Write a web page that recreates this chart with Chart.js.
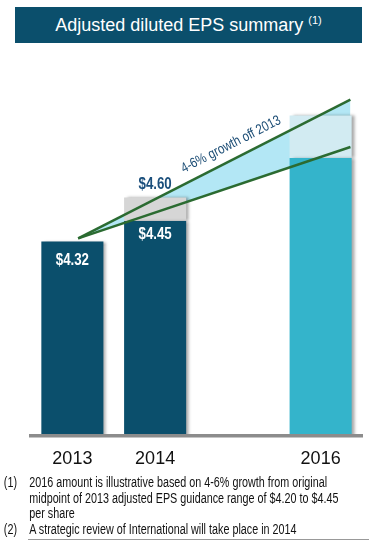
<!DOCTYPE html>
<html>
<head>
<meta charset="utf-8">
<script src="https://cdn.jsdelivr.net/npm/chart.js@4.4.0/dist/chart.umd.min.js"></script>
<style>
  body { margin: 0; width: 369px; height: 548px; background: #fff; position: relative; overflow: hidden;
         font-family: "Liberation Sans", Arial, sans-serif; }
  #title { position: absolute; left: 15px; top: 7px; width: 347px; height: 36px; background: #0b4f6c;
           color: #fff; font-size: 18px; line-height: 36px; text-align: center; }
  #title sup { font-size: 11px; vertical-align: 7px; line-height: 0; }
  #box { position: absolute; left: 0; top: 0; width: 369px; height: 485px; }
  /* the original uses a narrow face; squeeze the regular one to match */
  #notes { position: absolute; left: 0; top: 475px; width: 480px; font-size: 14px; line-height: 15.5px;
           color: #111; white-space: nowrap; transform: scaleX(0.77); transform-origin: 0 0; }
  .note { position: relative; padding-left: 38px; }
  .note span { position: absolute; left: 5px; }
  #rule { position: absolute; left: 28px; top: 539px; width: 341px; height: 1px; background: #999; }
</style>
</head>
<body>
<div id="box"><canvas id="chart"></canvas></div>
<div id="title">Adjusted diluted EPS summary <sup>(1)</sup></div>
<div id="notes">
  <div class="note"><span>(1)</span>2016 amount is illustrative based on 4-6% growth from original<br>midpoint of 2013 adjusted EPS guidance range of $4.20 to $4.45<br>per share</div>
  <div class="note"><span>(2)</span>A strategic review of International will take place in 2014</div>
</div>
<div id="rule"></div>
<script>
// values
const years = ["2013", "2014", "", "2016"];
const eps = [4.32, 4.45, null, 4.85];        // solid bars
const epsTop = [null, 4.60, null, 5.12];     // light caps on top
const growthX = [0.07, 3.36];                // category index along the growth lines
const growthLow = [4.34, 4.92];              // 4% line
const growthHigh = [4.34, 5.22];             // 6% line

const dark = "#0b4f6c";
const sans = '"Liberation Sans", Arial, sans-serif';

const capRanges = eps.map((v, i) => epsTop[i] == null ? null : [v, epsTop[i]]);
const lowPts = growthX.map((x, i) => ({x: x, y: growthLow[i]}));
const highPts = growthX.map((x, i) => ({x: x, y: growthHigh[i]}));

const shadow = {
    id: "shadow",
    beforeDatasetDraw(chart, args) {
        if (args.meta.type !== "bar") return;
        const ctx = chart.ctx;
        ctx.save();
        ctx.shadowColor = "rgba(0,0,0,0.35)";
        ctx.shadowOffsetX = 3;
        ctx.shadowBlur = 3;
    },
    afterDatasetDraw(chart, args) {
        if (args.meta.type === "bar") chart.ctx.restore();
    }
};

function narrowText(ctx, text, x, y, angle) {
    ctx.save();
    ctx.translate(x, y);
    ctx.rotate(angle || 0);
    ctx.scale(0.83, 1);
    ctx.fillText(text, 0, 0);
    ctx.restore();
}

const labels = {
    id: "labels",
    afterDatasetsDraw(chart) {
        const ctx = chart.ctx;
        const base = chart.getDatasetMeta(0).data;
        const caps = chart.getDatasetMeta(1).data;
        ctx.save();
        ctx.textAlign = "center";
        ctx.textBaseline = "middle";
        ctx.font = "bold 16px " + sans;
        ctx.fillStyle = "#fff";
        narrowText(ctx, "$" + eps[0].toFixed(2), base[0].x, base[0].y + 19);
        narrowText(ctx, "$" + eps[1].toFixed(2), base[1].x, base[1].y + 14);
        ctx.fillStyle = "#1b4f7c";
        narrowText(ctx, "$" + epsTop[1].toFixed(2), caps[1].x, caps[1].y - 13);

        // slanted note above the 6% line
        const xs = chart.scales.x2, ys = chart.scales.y;
        const x0 = xs.getPixelForValue(growthX[0]), y0 = ys.getPixelForValue(growthHigh[0]);
        const x1 = xs.getPixelForValue(growthX[1]), y1 = ys.getPixelForValue(growthHigh[1]);
        const ang = Math.atan2(y1 - y0, x1 - x0);
        const tx = 231, ty = y0 + (y1 - y0) * (tx - x0) / (x1 - x0) - 16;
        ctx.font = "14px " + sans;
        ctx.fillStyle = "#1d4e76";
        narrowText(ctx, "4-6% growth off 2013", tx, ty, ang);
        ctx.restore();
    }
};

new Chart(document.getElementById("chart"), {
    data: {
        labels: years,
        datasets: [{
            type: "bar",
            data: eps,
            backgroundColor: [dark, dark, dark, "#34b4cb"],
            grouped: false,
            barPercentage: 0.75,
            categoryPercentage: 1,
            order: 2
        }, {
            type: "bar",
            data: capRanges,
            backgroundColor: ["#d6d6d6", "#d6d6d6", "#d6d6d6", "#d2ebf2"],
            grouped: false,
            barPercentage: 0.75,
            categoryPercentage: 1,
            order: 2
        }, {
            type: "line",
            xAxisID: "x2",
            data: lowPts,
            borderColor: "#2b6b31",
            borderWidth: 2.5,
            pointRadius: 0,
            fill: false,
            order: 1
        }, {
            type: "line",
            xAxisID: "x2",
            data: highPts,
            borderColor: "#2b6b31",
            borderWidth: 2.5,
            pointRadius: 0,
            backgroundColor: "#b3e7f5",
            fill: "-1",
            order: 1
        }]
    },
    options: {
        responsive: true,
        maintainAspectRatio: false,
        animation: false,
        layout: {padding: {left: 31, right: 7, top: 95, bottom: 2}},
        plugins: {
            legend: {display: false},
            tooltip: {enabled: false},
            filler: {drawTime: "beforeDatasetsDraw"}
        },
        scales: {
            x: {
                grid: {display: false, drawTicks: false, tickLength: 0},
                border: {display: true, color: "#8c8c8c", width: 3.5, z: 1},
                ticks: {color: "#111", padding: 13, font: {size: 18, family: sans}}
            },
            x2: {
                type: "linear",
                display: false,
                min: -0.5,
                max: 3.5,
                offset: false
            },
            y: {
                display: false,
                min: 3.09,
                max: 5.25
            }
        }
    },
    plugins: [shadow, labels]
});
</script>
</body>
</html>
